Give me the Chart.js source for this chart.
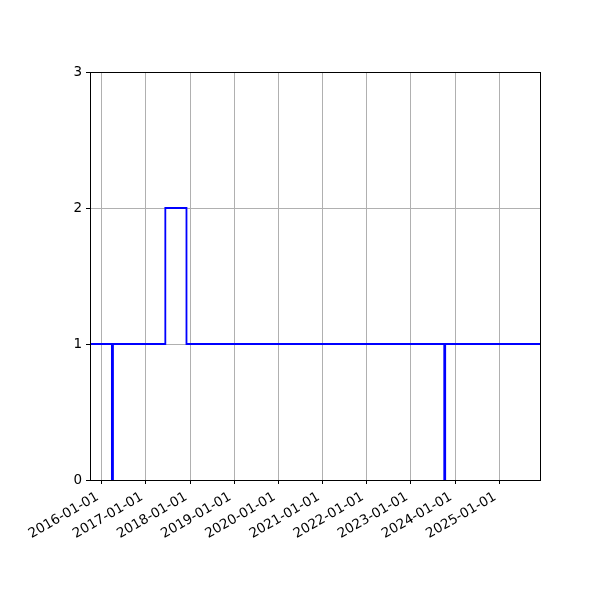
<!DOCTYPE html>
<html>
<head>
<meta charset="utf-8">
<script src="https://cdn.jsdelivr.net/npm/chart.js@4/dist/chart.umd.min.js"></script>
<style>
  html, body { margin: 0; padding: 0; background: #fff; }
  #wrap { width: 600px; height: 600px; }
</style>
</head>
<body>
<div id="wrap"><canvas id="stepChart" width="600" height="600"></canvas></div>
<script>
// step data (value holds until next date)
const stepDates = ['2015-09-26', '2016-03-25', '2016-04-03', '2017-06-10', '2017-12-02', '2023-10-04', '2023-10-12', '2025-12-04'];
const stepValues = [1, 0, 1, 2, 1, 0, 1, 1];
const tickYears = [2016, 2017, 2018, 2019, 2020, 2021, 2022, 2023, 2024, 2025];
const yTicks = [0, 1, 2, 3];
const xStart = '2015-09-26';
const xEnd = '2025-12-04';

const toMs = d => Date.parse(d + 'T00:00:00Z');
const pad2 = n => String(n).padStart(2, '0');
const fmtDate = ms => {
    const d = new Date(ms);
    return d.getUTCFullYear() + '-' + pad2(d.getUTCMonth() + 1) + '-' + pad2(d.getUTCDate());
};

const points = stepDates.map((d, i) => ({ x: toMs(d), y: stepValues[i] }));

// matplotlib-like frame on all four sides
const frame = {
    id: 'frame',
    afterDraw(chart) {
        const a = chart.chartArea;
        const c = chart.ctx;
        c.save();
        c.strokeStyle = '#000';
        c.lineWidth = 1;
        c.strokeRect(Math.round(a.left) + 0.5, Math.round(a.top) + 0.5,
            Math.round(a.right - a.left), Math.round(a.bottom - a.top));
        c.restore();
    }
};

const ctx = document.getElementById('stepChart').getContext('2d');

new Chart(ctx, {
    type: 'line',
    data: {
        datasets: [{
            data: points,
            borderColor: '#0000ff',
            borderWidth: 1.8,
            stepped: true,
            pointRadius: 0,
            fill: false,
        }]
    },
    options: {
        responsive: false,
        animation: false,
        devicePixelRatio: 1,
        layout: { padding: { top: 72, right: 60, left: 0, bottom: 0 } },
        plugins: {
            legend: { display: false },
            tooltip: { enabled: false },
        },
        scales: {
            x: {
                type: 'linear',
                min: toMs(xStart),
                max: toMs(xEnd),
                afterBuildTicks: scale => {
                    scale.ticks = tickYears.map(y => ({ value: Date.UTC(y, 0, 1) }));
                },
                afterFit: scale => { scale.height = 120; },
                ticks: {
                    autoSkip: false,
                    minRotation: 30,
                    maxRotation: 30,
                    labelOffset: -4,
                    color: '#000',
                    padding: 5,
                    font: { family: 'DejaVu Sans', size: 13.5 },
                    callback: v => fmtDate(v),
                },
                grid: {
                    color: '#b0b0b0',
                    lineWidth: 1,
                    tickColor: '#000',
                    tickLength: 4,
                },
                border: { color: '#000', width: 1 },
            },
            y: {
                min: 0,
                max: 3,
                afterBuildTicks: scale => {
                    scale.ticks = yTicks.map(v => ({ value: v }));
                },
                afterFit: scale => { scale.width = 90; },
                ticks: {
                    color: '#000',
                    padding: 4,
                    font: { family: 'DejaVu Sans', size: 13.5 },
                },
                grid: {
                    color: '#b0b0b0',
                    lineWidth: 1,
                    tickColor: '#000',
                    tickLength: 4,
                },
                border: { color: '#000', width: 1 },
            }
        }
    },
    plugins: [frame]
});
</script>
</body>
</html>
